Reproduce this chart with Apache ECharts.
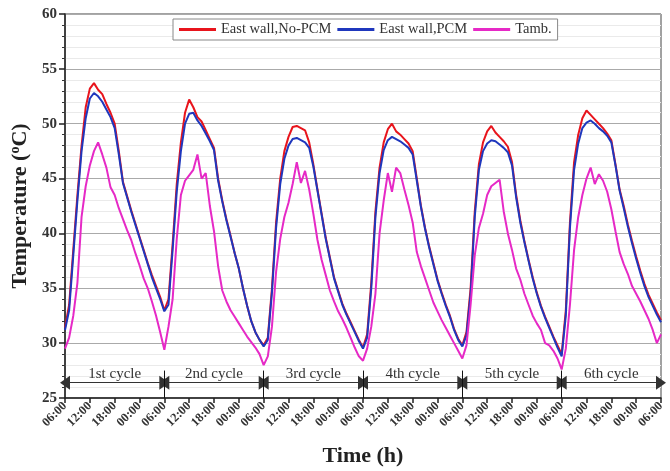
<!DOCTYPE html>
<html>
<head>
<meta charset="utf-8">
<script src="https://cdn.jsdelivr.net/npm/echarts@6/dist/echarts.min.js"></script>
<style>html,body{margin:0;padding:0;background:#fff}#c{width:670px;height:471px}</style>
</head>
<body>
<div id="c"></div>
<script>
// hourly readings, hour 0 = 06:00 of day 1, hour 144 = 06:00 of day 7
const hours = [];
for (let i = 0; i <= 144; i++) hours.push(i);

const eastNoPCM = [
  31.4,33.5,38.5,43.5,48.0,51.5,53.2,53.7,53.1,52.7,51.8,51.0,50.0,47.5,44.7,43.4,42.1,40.9,39.7,38.5,37.3,36.2,35.2,34.2,33.0,
  34.0,39.0,44.5,48.3,51.0,52.2,51.5,50.6,50.2,49.4,48.6,47.8,45.0,43.0,41.3,39.8,38.2,36.8,35.0,33.4,32.0,31.0,30.3,29.8,
  30.5,35.0,41.0,45.0,47.5,48.8,49.7,49.8,49.6,49.4,48.3,46.3,44.0,41.8,39.6,37.8,36.0,34.8,33.6,32.7,31.9,31.1,30.3,29.6,
  30.8,35.5,42.0,46.0,48.3,49.5,50.0,49.3,49.0,48.6,48.2,47.5,45.0,42.5,40.5,38.8,37.3,35.8,34.6,33.5,32.5,31.3,30.4,29.8,
  31.0,35.0,42.0,46.3,48.3,49.3,49.8,49.2,48.8,48.4,47.9,46.5,43.5,41.2,39.3,37.6,36.0,34.6,33.4,32.4,31.5,30.6,29.8,29.0,
  33.0,41.0,46.5,49.0,50.5,51.2,50.8,50.4,50.0,49.6,49.1,48.5,46.3,44.0,42.5,40.8,39.3,37.9,36.6,35.4,34.4,33.6,32.8,32.1
];
const eastPCM = [
  31.2,33.0,38.0,43.0,47.5,50.5,52.3,52.8,52.5,52.0,51.3,50.6,49.6,47.2,44.6,43.3,42.0,40.8,39.6,38.4,37.2,36.0,35.0,34.0,32.9,
  33.5,38.5,43.8,47.5,50.0,50.9,51.0,50.3,49.8,49.1,48.4,47.6,44.8,42.9,41.2,39.7,38.2,36.8,35.0,33.4,32.0,31.0,30.3,29.7,
  30.3,34.6,40.5,44.5,46.8,48.0,48.6,48.7,48.5,48.3,47.8,46.1,43.9,41.7,39.5,37.7,35.9,34.7,33.5,32.6,31.8,31.0,30.2,29.5,
  30.5,35.0,41.5,45.5,47.6,48.5,48.8,48.6,48.4,48.1,47.8,47.2,44.8,42.4,40.4,38.7,37.2,35.7,34.5,33.4,32.4,31.2,30.3,29.7,
  30.7,34.5,41.5,45.8,47.5,48.2,48.5,48.4,48.1,47.8,47.4,46.2,43.3,41.0,39.2,37.5,35.9,34.5,33.3,32.3,31.4,30.5,29.6,28.8,
  32.5,40.5,45.8,48.2,49.6,50.1,50.3,50.0,49.6,49.3,48.9,48.3,46.2,43.9,42.3,40.6,39.1,37.7,36.4,35.2,34.2,33.4,32.6,31.9
];
const tAmb = [
  29.5,30.5,32.5,35.5,41.5,44.3,46.2,47.5,48.3,47.2,46.0,44.2,43.5,42.3,41.3,40.3,39.4,38.2,37.1,35.9,35.0,33.8,32.5,31.0,29.4,
  31.5,34.0,39.5,43.5,44.8,45.3,45.8,47.2,45.0,45.5,42.5,40.2,37.0,34.8,33.8,33.0,32.4,31.8,31.2,30.6,30.1,29.6,29.0,28.0,
  28.8,31.5,36.5,39.5,41.5,42.8,44.5,46.5,44.6,45.7,44.0,41.8,39.4,37.6,36.2,34.8,33.8,32.9,32.2,31.4,30.5,29.6,28.8,28.4,
  29.5,31.5,34.5,40.0,43.0,45.5,43.8,46.0,45.5,44.0,42.6,41.0,38.3,37.0,35.9,34.8,33.7,32.9,32.1,31.4,30.7,30.0,29.3,28.6,
  29.8,33.5,38.0,40.5,41.8,43.5,44.3,44.6,44.9,42.0,40.0,38.5,36.8,35.8,34.5,33.5,32.5,31.8,31.2,30.0,29.8,29.3,28.6,27.6,
  29.5,33.5,38.5,41.5,43.5,45.0,46.0,44.5,45.4,44.8,43.8,42.2,40.2,38.3,37.2,36.3,35.2,34.5,33.8,33.0,32.2,31.2,30.0,30.8
];

const seriesNames = ['East wall,No-PCM', 'East wall,PCM', 'Tamb.'];
const tickLabels = ['06:00', '12:00', '18:00', '00:00'];
const cycleNames = ['1st cycle', '2nd cycle', '3rd cycle', '4th cycle', '5th cycle', '6th cycle'];
const cycleBounds = [0, 24, 48, 72, 96, 120, 144];
const arrowLevel = 26.4;

const FONT = "'Liberation Serif','Times New Roman',serif";
const colors = ['#e8141c', '#1f37bd', '#e629c6'];

function pairs(arr) { return arr.map((v, i) => [hours[i], v]); }

const markData = [];
for (let i = 0; i < cycleNames.length; i++) {
  markData.push([
    { coord: [cycleBounds[i], arrowLevel],
      label: { show: true, formatter: cycleNames[i], position: 'insideMiddleTop', distance: 1,
               color: '#333', fontSize: 15, fontFamily: FONT } },
    { coord: [cycleBounds[i + 1], arrowLevel] }
  ]);
}
const tickData = [];
for (let i = 1; i < cycleBounds.length - 1; i++) {
  tickData.push([
    { coord: [cycleBounds[i], 25], symbol: 'none', label: { show: false },
      lineStyle: { color: '#111', width: 1 } },
    { coord: [cycleBounds[i], 27.5], symbol: 'none' }
  ]);
}

const chart = echarts.init(document.getElementById('c'), null, { renderer: 'canvas' });
chart.setOption({
  animation: false,
  backgroundColor: '#fff',
  grid: { left: 65, right: 9, top: 14, bottom: 73, show: true, borderColor: '#444', borderWidth: 1,
          backgroundColor: 'transparent', containLabel: false, outerBoundsMode: 'none' },
  legend: {
    top: 19, left: 173,
    data: seriesNames,
    icon: 'rect', itemWidth: 37, itemHeight: 3, itemGap: 6,
    textStyle: { fontFamily: FONT, fontSize: 14.5, color: '#333' },
    backgroundColor: '#fff', borderColor: '#888', borderWidth: 1, padding: [3, 6, 3, 6]
  },
  xAxis: {
    type: 'value', min: 0, max: 144, interval: 6,
    name: 'Time (h)', nameLocation: 'middle', nameGap: 47,
    nameTextStyle: { fontFamily: FONT, fontSize: 22, fontWeight: 'bold', color: '#222' },
    axisLine: { lineStyle: { color: '#222', width: 1.5 } },
    axisTick: { show: true, length: 5, lineStyle: { color: '#222', width: 1.5 } },
    splitLine: { show: false },
    axisLabel: {
      rotate: 45, margin: 6, fontFamily: FONT, fontSize: 12.5, fontWeight: 'bold', color: '#333',
      formatter: v => tickLabels[(v / 6) % 4]
    }
  },
  yAxis: {
    type: 'value', min: 25, max: 60, interval: 5,
    name: 'Temperature ({s|o}C)', nameLocation: 'middle', nameGap: 24,
    nameTextStyle: { fontFamily: FONT, fontSize: 22, fontWeight: 'bold', color: '#222',
      rich: { s: { fontFamily: FONT, fontSize: 14, fontWeight: 'bold', color: '#222', verticalAlign: 'bottom', padding: [0, 0, 10, 0] } } },
    axisLine: { show: true, lineStyle: { color: '#222', width: 1.5 } },
    axisTick: { show: true, length: 6, lineStyle: { color: '#222', width: 1.5 } },
    minorTick: { show: true, splitNumber: 5, length: 3, lineStyle: { color: '#333' } },
    splitLine: { show: true, lineStyle: { color: '#aaa', width: 1 } },
    minorSplitLine: { show: true, lineStyle: { color: '#eaeaea', width: 1 } },
    axisLabel: { fontFamily: FONT, fontSize: 15, fontWeight: 'bold', color: '#333', margin: 8 }
  },
  series: [
    { name: seriesNames[0], type: 'line', data: pairs(eastNoPCM), showSymbol: false, symbol: 'none',
      lineStyle: { color: colors[0], width: 2 }, itemStyle: { color: colors[0] }, z: 2 },
    { name: seriesNames[1], type: 'line', data: pairs(eastPCM), showSymbol: false, symbol: 'none',
      lineStyle: { color: colors[1], width: 2 }, itemStyle: { color: colors[1] }, z: 3 },
    { name: seriesNames[2], type: 'line', data: pairs(tAmb), showSymbol: false, symbol: 'none',
      lineStyle: { color: colors[2], width: 2 }, itemStyle: { color: colors[2] }, z: 4 },
    { name: 'annot', type: 'line', data: [], z: 5,
      markLine: {
        silent: true, animation: false,
        symbol: ['triangle', 'triangle'], symbolSize: [14, 10],
        lineStyle: { color: '#333', width: 1, type: 'solid' },
        itemStyle: { color: '#111' },
        label: { show: true },
        data: markData.concat(tickData)
      }
    }
  ]
});
</script>
</body>
</html>
